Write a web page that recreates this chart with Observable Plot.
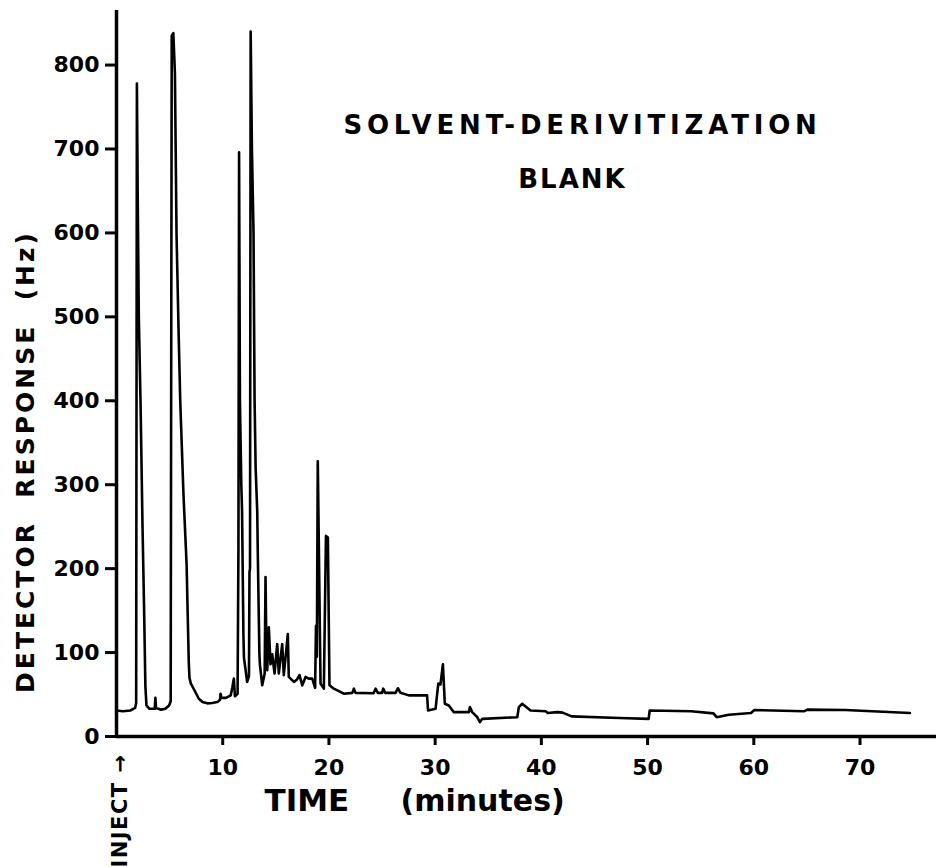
<!DOCTYPE html>
<html>
<head>
<meta charset="utf-8">
<script src="https://cdn.jsdelivr.net/npm/d3@7"></script>
<script src="https://cdn.jsdelivr.net/npm/@observablehq/plot@0.6"></script>
<style>
  body { margin: 0; background: #fff; }
  svg text { font-family: "DejaVu Sans", sans-serif; font-weight: bold; fill: #000; }
  g[aria-label^="x-axis"] text { font-size: 22px; }
  g[aria-label^="y-axis"] text { font-size: 22px; }
  g[aria-label^="x-axis"] line, g[aria-label^="y-axis"] line,
  g[aria-label="x-axis tick"] path, g[aria-label="y-axis tick"] path { stroke: #000; stroke-width: 3px; }
</style>
</head>
<body>
<script>
// Chromatogram trace: retention time (minutes) and detector response (Hz)
const minutes = [
  0, 0.6, 1.3, 1.75, 1.85, 1.92, 2.0, 2.1, 2.26, 2.45, 2.6, 2.72, 2.82, 3.1, 3.6, 3.66, 3.72,
  4.2, 4.6, 4.95, 5.1, 5.2, 5.35, 5.5, 5.65, 5.85, 6.0, 6.3, 6.6, 6.8, 6.87, 7.0, 7.3, 7.75, 8.1, 8.55,
  9.0, 9.5, 9.75, 9.8, 9.88, 10.3, 10.75, 10.9, 11.05, 11.15, 11.4,
  11.48, 11.54, 11.62, 11.75, 11.82, 11.95, 12.0, 12.3, 12.47, 12.52, 12.57, 12.63, 12.75, 12.9, 13.0, 13.1, 13.25, 13.3, 13.45, 13.5, 13.72,
  13.95, 14.03, 14.1, 14.19, 14.34, 14.5, 14.66, 14.88, 15.13, 15.28, 15.6, 15.75, 16.13, 16.22, 16.7,
  17.0, 17.23, 17.49, 17.8, 18.1, 18.43, 18.7, 18.78, 18.86, 18.95, 19.21, 19.52, 19.72, 19.9, 20.05,
  20.46, 21.4, 22.2, 22.35, 22.5, 24.2, 24.39, 24.6, 25.0, 25.11, 25.3, 26.27, 26.49, 26.74, 27.52, 29.24,
  29.33, 30.04, 30.2, 30.3, 30.5, 30.73, 30.91, 31.29, 31.76, 33.17, 33.27, 33.49, 33.96, 34.21, 34.43,
  37.73, 37.88, 38.2, 38.98, 40.4, 40.6, 41.5, 42.0, 42.84, 47.34, 50.1, 50.2,
  54.1, 56.2, 56.5, 57.65, 59.74, 60.05, 64.7, 65.05, 68.6, 74.7
];
const response = [
  31, 30, 31, 34, 40, 778, 640, 500, 400, 250, 150, 60, 37, 33, 33, 46, 34,
  32, 33, 37, 42, 835, 838, 790, 600, 480, 400, 290, 205, 90, 70, 63, 56, 45, 41, 39.5,
  40, 41, 44, 51, 46, 46, 49, 58, 69, 48, 51,
  225, 696, 400, 300, 269, 120, 94, 65, 72, 196, 200, 840, 700, 600, 400, 320, 268, 220, 100, 86, 61,
  75, 190, 120, 79, 130, 86, 98, 75, 110, 75, 110, 73, 122, 71, 65,
  68, 73, 61, 71, 69, 69, 58, 132, 95, 328, 63, 57, 239, 237, 61,
  57, 51, 52, 57, 52, 51.5, 57, 52, 52, 57, 52, 52, 57.5, 52, 49, 49,
  31, 33, 52, 63, 62, 86, 39, 37, 29, 29, 35, 29, 23, 17, 21,
  23, 35, 39, 31, 30, 28, 29, 28.5, 24, 22, 21, 31,
  30, 27.5, 23, 26, 28, 31.5, 30, 32, 31.5, 28
];

// Axis ticks
const timeTicks = [10, 20, 30, 40, 50, 60, 70];
const responseTicks = [0, 100, 200, 300, 400, 500, 600, 700, 800];

// Text
const titleLines = ["SOLVENT-DERIVITIZATION", "BLANK"];
const timeLabel = "TIME";
const unitLabel = "(minutes)";
const responseLabel = "DETECTOR  RESPONSE  (Hz)";
const injectLabel = "INJECT →";

const trace = minutes.map((t, i) => ({t, v: response[i]}));

const chart = Plot.plot({
  width: 936,
  height: 867,
  marginLeft: 116,
  marginRight: 0,
  marginTop: 10,
  marginBottom: 131,
  style: {background: "#fff", color: "#000", fontFamily: "DejaVu Sans", fontWeight: "bold", fontSize: "22px"},
  x: {domain: [0, 77.2], ticks: timeTicks, tickSize: 9, tickPadding: 14, tickFormat: d => String(d), label: null},
  y: {domain: [0, 865], ticks: responseTicks, tickSize: 11, tickPadding: 6, tickFormat: d => String(d), label: null},
  marks: [
    Plot.ruleX([0], {stroke: "#000", strokeWidth: 3.5}),
    Plot.ruleY([0], {stroke: "#000", strokeWidth: 3.5}),
    Plot.line(trace, {x: "t", y: "v", stroke: "#000", strokeWidth: 2.6, strokeLinejoin: "round"}),
    Plot.text([titleLines[0]], {text: d => d, frameAnchor: "top-left", dx: 466, dy: 115, lineAnchor: "middle", fontSize: 26, textAnchor: "middle"}),
    Plot.text([titleLines[1]], {text: d => d, frameAnchor: "top-left", dx: 456, dy: 169, lineAnchor: "middle", fontSize: 26, textAnchor: "middle"}),
    Plot.text([timeLabel], {text: d => d, frameAnchor: "bottom-left", dx: 148, dy: 65, lineAnchor: "middle", fontSize: 31, textAnchor: "start"}),
    Plot.text([unitLabel], {text: d => d, frameAnchor: "bottom-left", dx: 284, dy: 65, lineAnchor: "middle", fontSize: 30, textAnchor: "start"}),
    Plot.text([responseLabel], {text: d => d, frameAnchor: "left", dx: -91, dy: 88, rotate: -90, lineAnchor: "middle", fontSize: 25, textAnchor: "middle"}),
    Plot.text([injectLabel], {text: d => d, frameAnchor: "bottom-left", dx: 4, dy: 74, rotate: -90, lineAnchor: "middle", fontSize: 21, textAnchor: "middle"})
  ]
});

// Letter spacing for the hand-lettered labels
const spacing = new Map([
  [titleLines[0], "4.8px"],
  [titleLines[1], "2px"],
  [responseLabel, "3px"],
  [injectLabel, "1.5px"]
]);
d3.select(chart).selectAll("text").each(function () {
  const s = spacing.get(this.textContent);
  if (s) d3.select(this).style("letter-spacing", s).style("white-space", "pre").attr("xml:space", "preserve");
});

document.body.appendChild(chart);
</script>
</body>
</html>
